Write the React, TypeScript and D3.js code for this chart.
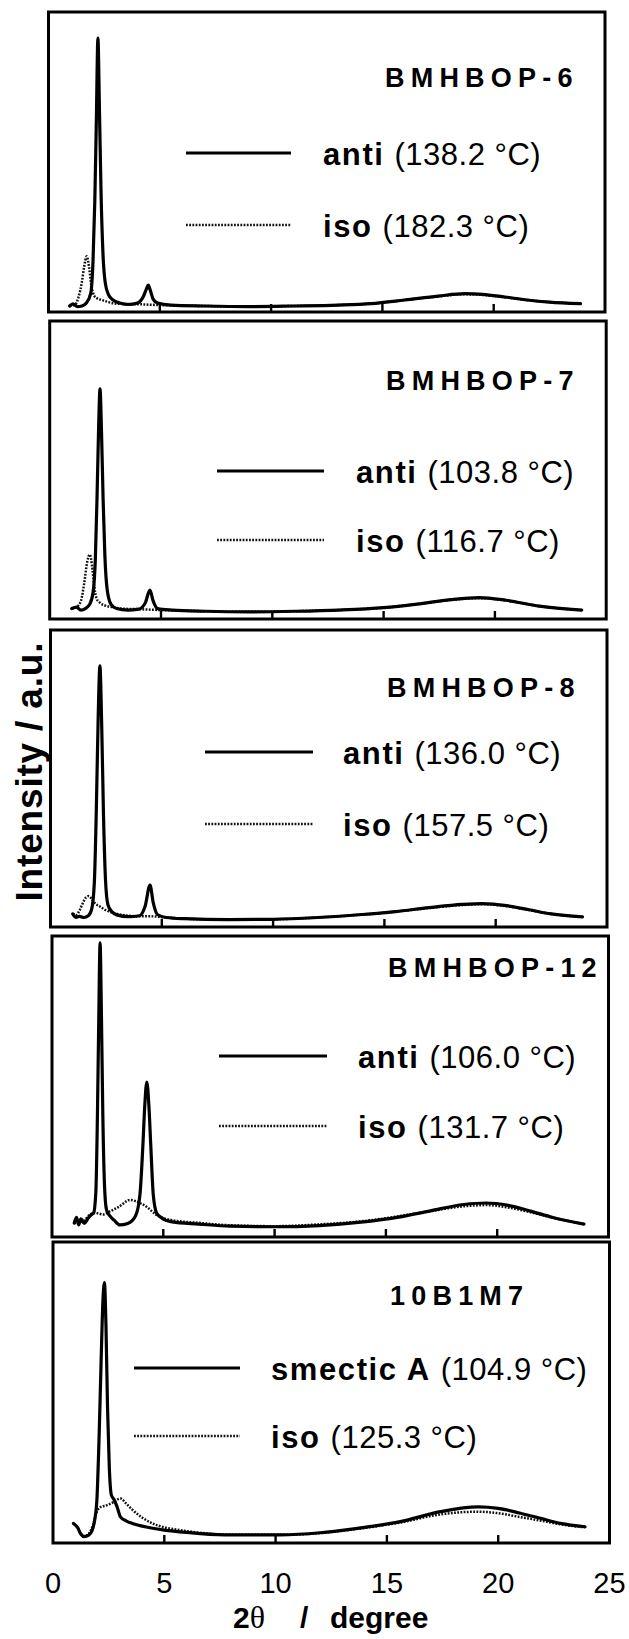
import React from "react";
import * as d3 from "d3";

type Pt = [number, number];

// ---------- text content ----------
const titles = ["BMHBOP-6", "BMHBOP-7", "BMHBOP-8", "BMHBOP-12", "10B1M7"];
const phaseLabels = ["anti", "anti", "anti", "anti", "smectic A"];
const phaseTemps = ["(138.2 °C)", "(103.8 °C)", "(136.0 °C)", "(106.0 °C)", "(104.9 °C)"];
const isoLabel = "iso";
const isoTemps = ["(182.3 °C)", "(116.7 °C)", "(157.5 °C)", "(131.7 °C)", "(125.3 °C)"];
const xTicks = [0, 5, 10, 15, 20, 25];
const innerTicks = [5, 10, 15, 20];

// ---------- data: [2θ (deg), intensity (a.u., 0-100 of panel)] ----------
const bmhbop6Anti: Pt[] = [
  [0.95, 2.0], [1.1, 2.7], [1.3, 1.8], [1.5, 2.0], [1.7, 3.0], [1.9, 6.3], [2.0, 17],
  [2.08, 37], [2.15, 64], [2.22, 91.3], [2.29, 67], [2.36, 40], [2.45, 19], [2.55, 9.7],
  [2.7, 5.7], [2.9, 4.0], [3.2, 3.0], [3.6, 2.5], [4.0, 3.0], [4.25, 5.0], [4.4, 7.7],
  [4.48, 9.0], [4.57, 7.3], [4.7, 4.3], [4.9, 3.0], [5.5, 2.3], [7, 2.0], [9, 1.8],
  [11, 2.0], [13, 2.3], [14.5, 2.8], [16, 4.0], [17.5, 5.3], [18.7, 6.1], [19.5, 5.9],
  [20.5, 5.0], [21.5, 4.0], [22.5, 3.3], [23.9, 2.8],
];
const bmhbop6Iso: Pt[] = [
  [0.95, 2.0], [1.2, 2.5], [1.35, 5], [1.5, 10], [1.6, 15], [1.72, 18.6], [1.82, 15],
  [1.92, 9], [2.05, 5.5], [2.2, 4.5], [2.4, 4.0], [2.7, 3.3], [3.0, 2.8], [4.0, 2.6],
  [5, 2.3], [7, 2.0], [9, 1.8], [11, 2.0], [13, 2.3], [14.5, 2.8], [16, 4.0], [17.5, 5.2],
  [18.7, 5.9], [19.5, 5.7], [20.5, 4.9], [21.5, 4.0], [22.5, 3.3], [23.9, 2.8],
];

const bmhbop7Anti: Pt[] = [
  [0.99, 3.5], [1.2, 4.0], [1.4, 3.0], [1.6, 3.5], [1.8, 5], [1.95, 9], [2.05, 20],
  [2.13, 42], [2.2, 65], [2.26, 77.2], [2.33, 62], [2.4, 40], [2.48, 21], [2.58, 10],
  [2.75, 5], [3.0, 3.5], [3.5, 3.0], [4.0, 3.3], [4.3, 5.5], [4.5, 9.7], [4.65, 6],
  [4.85, 3.5], [5.5, 3.0], [7, 2.6], [9, 2.4], [11, 2.6], [13, 3.0], [15, 3.8],
  [16.5, 5.0], [18, 6.5], [19.3, 7.2], [20.5, 6.3], [22, 4.3], [23.9, 3.0],
];
const bmhbop7Iso: Pt[] = [
  [0.99, 3.5], [1.2, 4.0], [1.4, 6], [1.55, 12], [1.68, 19], [1.8, 21.6], [1.9, 18],
  [2.0, 11], [2.1, 7], [2.25, 5.5], [2.5, 4.5], [2.8, 4.0], [3.2, 3.5], [4.0, 3.3],
  [5, 3.0], [7, 2.6], [9, 2.4], [11, 2.6], [13, 3.0], [15, 3.8], [16.5, 5.0], [18, 6.4],
  [19.3, 7.0], [20.5, 6.2], [22, 4.3], [23.9, 3.0],
];

const bmhbop8Anti: Pt[] = [
  [1.0, 4.4], [1.15, 3.2], [1.3, 3.6], [1.5, 3.2], [1.7, 3.8], [1.85, 6], [1.97, 15],
  [2.06, 40], [2.14, 70], [2.22, 87.9], [2.3, 68], [2.38, 38], [2.47, 16], [2.58, 7.5],
  [2.75, 5.2], [3.0, 4.0], [3.5, 3.5], [4.0, 3.8], [4.25, 7], [4.47, 14.1], [4.62, 8],
  [4.8, 4.2], [5.2, 3.2], [6, 2.8], [8, 2.5], [10, 2.6], [12, 3.2], [14, 4.2],
  [15.5, 5.2], [17, 6.5], [18.5, 7.6], [19.4, 7.9], [20.5, 7.2], [21.5, 5.8],
  [22.5, 4.4], [23.9, 3.4],
];
const bmhbop8Iso: Pt[] = [
  [1.0, 4.4], [1.15, 4.0], [1.3, 5.5], [1.45, 8], [1.6, 10], [1.72, 10.4], [1.85, 9.5],
  [2.0, 8], [2.2, 7], [2.4, 6], [2.7, 5], [3.0, 4.4], [3.5, 3.8], [4.0, 3.6], [4.5, 3.6],
  [5.2, 3.2], [6, 2.8], [8, 2.5], [10, 2.6], [12, 3.2], [14, 4.2], [15.5, 5.2], [17, 6.4],
  [18.5, 7.4], [19.4, 7.7], [20.5, 7.0], [21.5, 5.7], [22.5, 4.4], [23.9, 3.4],
];

const bmhbop12Anti: Pt[] = [
  [1.0, 4.6], [1.1, 6.5], [1.2, 4.0], [1.3, 6.0], [1.45, 4.5], [1.6, 6.0], [1.75, 7.3],
  [1.87, 8], [1.97, 15], [2.04, 40], [2.1, 72], [2.16, 97.7], [2.22, 74], [2.28, 42],
  [2.36, 17], [2.45, 9], [2.6, 7], [2.8, 5.5], [3.05, 4.0], [3.4, 4.5], [3.75, 7],
  [3.95, 14], [4.08, 30], [4.17, 44], [4.26, 51.5], [4.35, 44], [4.44, 30], [4.55, 14],
  [4.7, 8], [4.9, 6.5], [5.4, 5.0], [6.6, 4.3], [8, 3.6], [10, 3.4], [12, 3.8], [14, 5.0],
  [15.5, 6.5], [17, 8.7], [18.5, 10.8], [19.5, 11.3], [20.5, 10.5], [21.5, 8.6],
  [22.5, 6.5], [23.9, 4.3],
];
const bmhbop12Iso: Pt[] = [
  [1.0, 4.6], [1.2, 5.0], [1.45, 5.5], [1.7, 7.5], [1.9, 8], [2.1, 7.8], [2.3, 7.5],
  [2.6, 8.5], [3.0, 10], [3.5, 12.3], [3.95, 11.3], [4.26, 10], [4.5, 8.5], [4.7, 7.3],
  [5.4, 5.6], [6.6, 4.7], [8, 3.9], [10, 3.6], [12, 4.2], [14, 5.3], [15.5, 6.8],
  [17, 8.6], [18.5, 10.2], [19.5, 10.6], [20.5, 9.8], [21.5, 8.2], [22.5, 6.4], [23.9, 4.3],
];

const b1m7Smectic: Pt[] = [
  [0.92, 6.5], [1.1, 5.2], [1.25, 3.0], [1.4, 2.1], [1.6, 2.6], [1.75, 4], [1.88, 8],
  [1.97, 14], [2.07, 35], [2.16, 60], [2.24, 80], [2.31, 86.5], [2.38, 72], [2.45, 45],
  [2.53, 25], [2.62, 16], [2.75, 14.3], [2.88, 12], [3.03, 8.7], [3.3, 7.3], [3.57, 6.5],
  [4.2, 5.3], [5.0, 4.3], [6, 3.5], [7.7, 2.7], [10.2, 2.7], [12, 3.4], [12.9, 4.1],
  [14.3, 5.5], [15.6, 7.1], [17.4, 10.4], [19.1, 12], [20, 11.5], [21, 9.9], [22, 8.0],
  [22.8, 6.5], [23.9, 5.4],
];
const b1m7Iso: Pt[] = [
  [0.92, 6.5], [1.1, 5.2], [1.25, 3.0], [1.4, 2.3], [1.6, 3.0], [1.8, 6], [1.95, 10],
  [2.15, 12], [2.4, 12.5], [2.7, 13.5], [3.03, 14.8], [3.3, 13], [3.57, 11], [4.0, 8.5],
  [4.47, 6.5], [5.0, 5.2], [5.7, 4.3], [6.5, 3.5], [7.7, 2.8], [10.2, 2.7], [12, 3.3],
  [12.9, 4.0], [14.3, 5.3], [15.6, 6.8], [17.4, 9.5], [19.1, 10.4], [20, 9.9], [21, 8.6],
  [22, 7.3], [22.8, 6.2], [23.9, 5.2],
];

const orderedMain = [bmhbop6Anti, bmhbop7Anti, bmhbop8Anti, bmhbop12Anti, b1m7Smectic];
const isoSeries = [bmhbop6Iso, bmhbop7Iso, bmhbop8Iso, bmhbop12Iso, b1m7Iso];

// ---------- layout ----------
const W = 629;
const H = 1639;
const panelLeft = [48.5, 49.7, 50.5, 52, 53];
const panelWidth = 556.5;
const panelTop = [12, 321, 630, 936, 1242];
const panelBottom = [312, 619, 927, 1237, 1543];
const titleX = [385, 386, 387, 388, 390];
const titleY = [87, 390, 697, 977, 1305];
const legX0 = [186, 217, 205, 219, 134];
const legX1 = [291, 324, 313, 327, 240];
const legTextX = [323, 356, 343, 358, 271];
const legAntiY = [165, 483, 764, 1068, 1380];
const legIsoY = [237, 552, 836, 1138, 1448];

const FONT = "'Liberation Sans', Arial, Helvetica, sans-serif";

function Panel({ i }: { i: number }) {
  const x = d3.scaleLinear().domain([0, 25]).range([panelLeft[i], panelLeft[i] + panelWidth]);
  const y = d3.scaleLinear().domain([0, 100]).range([panelBottom[i], panelTop[i]]);
  const line = d3
    .line<Pt>()
    .x((d) => x(d[0]))
    .y((d) => y(d[1]))
    .curve(d3.curveMonotoneX);
  return (
    <g>
      <path d={line(isoSeries[i]) || ""} fill="none" stroke="#111" strokeWidth={2.5}
        strokeDasharray="1.8 1.4" strokeLinejoin="round" />
      <path d={line(orderedMain[i]) || ""} fill="none" stroke="#000" strokeWidth={3.2}
        strokeLinejoin="round" strokeLinecap="round" />
      <rect x={x(0)} y={y(100)} width={x(25) - x(0)} height={y(0) - y(100)}
        fill="none" stroke="#000" strokeWidth={3} />
      {innerTicks.map((t) => (
        <line key={t} x1={x(t)} x2={x(t)} y1={y(0)} y2={y(0) - 8} stroke="#000" strokeWidth={2.4} />
      ))}
      <text x={titleX[i]} y={titleY[i]} fontFamily={FONT} fontWeight="bold" fontSize={27}
        letterSpacing={6.2} fill="#000">{titles[i]}</text>
      <line x1={legX0[i]} x2={legX1[i]} y1={legAntiY[i] - 12} y2={legAntiY[i] - 12}
        stroke="#000" strokeWidth={3} />
      <line x1={legX0[i]} x2={legX1[i]} y1={legIsoY[i] - 12} y2={legIsoY[i] - 12}
        stroke="#111" strokeWidth={2.5} strokeDasharray="1.8 1.4" />
      <text x={legTextX[i]} y={legAntiY[i]} fontFamily={FONT} fontSize={31} fill="#000">
        <tspan fontWeight="bold" letterSpacing={1.6}>{phaseLabels[i]}</tspan>
        <tspan dx={10} letterSpacing={0.5}>{phaseTemps[i]}</tspan>
      </text>
      <text x={legTextX[i]} y={legIsoY[i]} fontFamily={FONT} fontSize={31} fill="#000">
        <tspan fontWeight="bold" letterSpacing={1.6}>{isoLabel}</tspan>
        <tspan dx={10} letterSpacing={0.5}>{isoTemps[i]}</tspan>
      </text>
    </g>
  );
}

export default function App() {
  const last = 4;
  const xb = d3.scaleLinear().domain([0, 25]).range([panelLeft[last], panelLeft[last] + panelWidth]);
  return (
    <div style={{ position: "absolute", left: 0, top: 0 }}>
      <svg width={W} height={H} viewBox={`0 0 ${W} ${H}`} style={{ display: "block" }}>
        <rect x={0} y={0} width={W} height={H} fill="#fff" />
        {[0, 1, 2, 3, 4].map((i) => (
          <Panel key={i} i={i} />
        ))}
        {xTicks.map((t) => (
          <text key={t} x={xb(t)} y={1593} textAnchor="middle" fontFamily={FONT} fontSize={29} fill="#000">
            {t}
          </text>
        ))}
        <text y={1628} fontFamily={FONT} fontSize={30} fontWeight="bold" fill="#000">
          <tspan x={233}>2</tspan>
          <tspan fontFamily="'Liberation Serif', 'Times New Roman', serif" fontWeight="normal" fontSize={32}>θ</tspan>
          <tspan x={300}>/</tspan>
          <tspan x={330}>degree</tspan>
        </text>
        <text transform="translate(42,772) rotate(-90)" textAnchor="middle" fontFamily={FONT}
          fontSize={37} fontWeight="bold" fill="#000" textLength={259} lengthAdjust="spacing">
          Intensity / a.u.
        </text>
      </svg>
    </div>
  );
}
